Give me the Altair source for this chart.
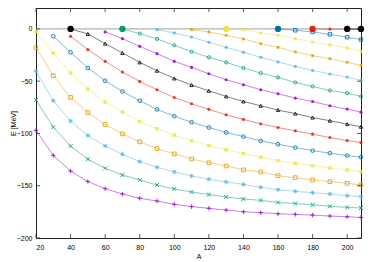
import altair as alt
import pandas as pd

A_VALUES = [20, 30, 40, 50, 60, 70, 80, 90, 100, 110, 120, 130, 140, 150, 160, 170, 180, 190, 200, 208]

# energy levels (MeV), each list starts at the A given in START
S1 = [-97, -121, -136, -146, -152.8, -157.9, -162, -164.6, -167.8, -170, -171.6, -173.3, -174.9, -175.8, -176.8, -177.4, -178.1, -179, -179.7, -180.3]
S2 = [-68, -94, -112, -124.6, -133.3, -139.7, -144.5, -149.3, -153.1, -156, -158.5, -160.8, -162.7, -164, -166, -167, -168.2, -169.7, -170.7, -171.3]
S3 = [-40.6, -68.7, -88, -102, -111.9, -119.9, -126.9, -132.3, -136.8, -140.7, -143.8, -146.4, -148.8, -151.5, -153.8, -155.3, -156.7, -157.9, -159.5, -160.5]
S4 = [-18, -44.7, -65.5, -80, -91.5, -100.4, -108, -114.5, -119.6, -124.4, -128, -131.1, -134.9, -136.8, -140.4, -142.3, -144.5, -146.1, -147.7, -149.3]
S5 = [-2.5, -23, -42.2, -57.5, -70, -79.5, -88.6, -95.5, -101.6, -107, -111.6, -115.7, -119.1, -122.7, -126, -128.5, -130.8, -133, -134.9, -136.5]
S6 = [-7.1, -22.4, -37.4, -49.6, -59.8, -68.7, -77, -83.5, -89.3, -94.3, -99.1, -103, -107.1, -110.3, -113.5, -116.4, -118.9, -121.2, -122.7]
S7 = [-7.1, -19.8, -31, -41.3, -50.2, -58.2, -65.6, -71.6, -76.9, -82.2, -86.6, -90.8, -94.3, -97.5, -100.7, -103.9, -106.8, -108.7]
S8 = [0, -4.8, -14.1, -23, -32, -40, -47.4, -53.7, -59.2, -64.6, -69.4, -73.5, -77.6, -81, -84.8, -87.8, -91.1, -93.6]
S9 = [-2.9, -9.3, -16.7, -23.7, -31, -36.8, -42.9, -48.6, -53.4, -58.2, -62, -66.2, -69.4, -73.5, -76.7, -79.6]
S10 = [0, -4.5, -9.6, -15.7, -21.8, -27.2, -32, -37.4, -42.2, -46.4, -51.2, -55, -58.9, -61.4, -64.6]
S11 = [-0.7, -3.8, -7.7, -12.8, -17.6, -22.4, -27.2, -31.6, -35.9, -39.7, -43.1, -46, -49.3]
S12 = [-0.7, -2.9, -6.1, -9.6, -14.1, -17.6, -22, -25.6, -28.5, -32, -34.9]
S13 = [0, -0.7, -3.8, -6.1, -9.3, -12.5, -15.3, -18.2, -21.5]
S14 = [0, -1.3, -2.9, -5.2, -8, -10.2]
S15 = [0, -0.2, -0.4, -0.6]
S16 = [0, 0]
SERIES = [S1, S2, S3, S4, S5, S6, S7, S8, S9, S10, S11, S12, S13, S14, S15, S16]
START = [20, 20, 20, 20, 20, 30, 40, 40, 60, 70, 90, 110, 130, 160, 180, 200]

# threshold markers (large dots)
BIG_A = [40, 70, 130, 160, 180, 200, 208]
BIG_E = [0, 0, 0, 0, 0, 0, 0]
BIG_COLOR = ["#000000", "#009E73", "#F0E442", "#0072B2", "#E51E10", "#000000", "#000000"]

X_TICKS = [20, 40, 60, 80, 100, 120, 140, 160, 180, 200]
Y_TICKS = [0, -50, -100, -150, -200]

PALETTE = ["#9400D3", "#009E73", "#56B4E9", "#E69F00", "#F0E442", "#0072B2", "#E51E10", "#000000"]
PLUS = "M-1,0L1,0M0,-1L0,1"
CROSS = "M-1,-1L1,1M-1,1L1,-1"
STAR = "M-1,0L1,0M0,-1L0,1M-0.7,-0.7L0.7,0.7M-0.7,0.7L0.7,-0.7"
STYLES = [
    (PLUS, False, 20), (CROSS, False, 16), (STAR, False, 20), ("square", False, 14),
    ("square", True, 12), ("circle", False, 14), ("circle", True, 10), ("triangle-up", False, 12),
    ("circle", True, 10), ("circle", False, 10), ("circle", True, 10), ("circle", True, 10),
    ("circle", True, 10), ("square", False, 12), ("circle", True, 10), ("circle", True, 10),
]

W, H = 325, 230
X_AXIS = alt.Axis(values=X_TICKS, grid=False, ticks=False, domain=False,
                  labelOverlap=False, labelPadding=5, titlePadding=2)
Y_AXIS = alt.Axis(values=Y_TICKS, grid=False, ticks=False, domain=False,
                  labelOverlap=False, labelPadding=4, titlePadding=0)
xs = alt.Scale(domain=[20, 208], nice=False, zero=False)
ys = alt.Scale(domain=[-200, 20], nice=False, zero=False)
FONT = "Liberation Sans"


def X(field):
    return alt.X(field, scale=xs, title="A", axis=X_AXIS)


def Y(field):
    return alt.Y(field, scale=ys, title="E [MeV]", axis=Y_AXIS)


layers = []
zero = pd.DataFrame({"E": [0]})
layers.append(alt.Chart(zero).mark_rule(color="#a0a0a0", strokeWidth=1).encode(
    y=Y("E:Q"), x=alt.value(0), x2=alt.value(W)))

for i, (vals, st) in enumerate(zip(SERIES, START)):
    idx = A_VALUES.index(st)
    df = pd.DataFrame({"A": A_VALUES[idx:idx + len(vals)], "E": vals})
    col = PALETTE[i % 8]
    shape, filled, size = STYLES[i]
    base = alt.Chart(df)
    layers.append(base.mark_line(color=col, strokeWidth=1, opacity=0.5).encode(
        x=X("A:Q"), y=Y("E:Q")))
    layers.append(base.mark_point(shape=shape, filled=filled, color=col, size=size,
                                  strokeWidth=1, opacity=0.85).encode(
        x=X("A:Q"), y=Y("E:Q")))

big = pd.DataFrame({"A": BIG_A, "E": BIG_E, "c": BIG_COLOR})
layers.append(alt.Chart(big).mark_circle(size=40, opacity=1).encode(
    x=X("A:Q"), y=Y("E:Q"),
    color=alt.Color("c:N", scale=None)))

xt = pd.DataFrame({"A": X_TICKS})
yt = pd.DataFrame({"E": Y_TICKS})
tick_col = "#333333"
TL = 4
layers.append(alt.Chart(xt).mark_rule(color=tick_col, strokeWidth=0.8).encode(
    x=X("A:Q"), y=alt.value(H), y2=alt.value(H - TL)))
layers.append(alt.Chart(xt).mark_rule(color=tick_col, strokeWidth=0.8).encode(
    x=X("A:Q"), y=alt.value(0), y2=alt.value(TL)))
layers.append(alt.Chart(yt).mark_rule(color=tick_col, strokeWidth=0.8).encode(
    y=Y("E:Q"), x=alt.value(0), x2=alt.value(TL)))
layers.append(alt.Chart(yt).mark_rule(color=tick_col, strokeWidth=0.8).encode(
    y=Y("E:Q"), x=alt.value(W), x2=alt.value(W - TL)))

chart = alt.layer(*layers).properties(
    width=W, height=H,
    autosize=alt.AutoSizeParams(type="none"),
    padding={"left": 28, "top": 0, "right": 5, "bottom": 22},
).configure_view(stroke="#222222", strokeWidth=1).configure_axis(
    labelFont=FONT, titleFont=FONT, labelFontSize=7, titleFontSize=7,
    labelColor="#000", titleColor="#000", titleFontWeight="normal",
    labelOverlap=False,
)

chart.save("out.html", embed_options={"renderer": "svg", "actions": False})
